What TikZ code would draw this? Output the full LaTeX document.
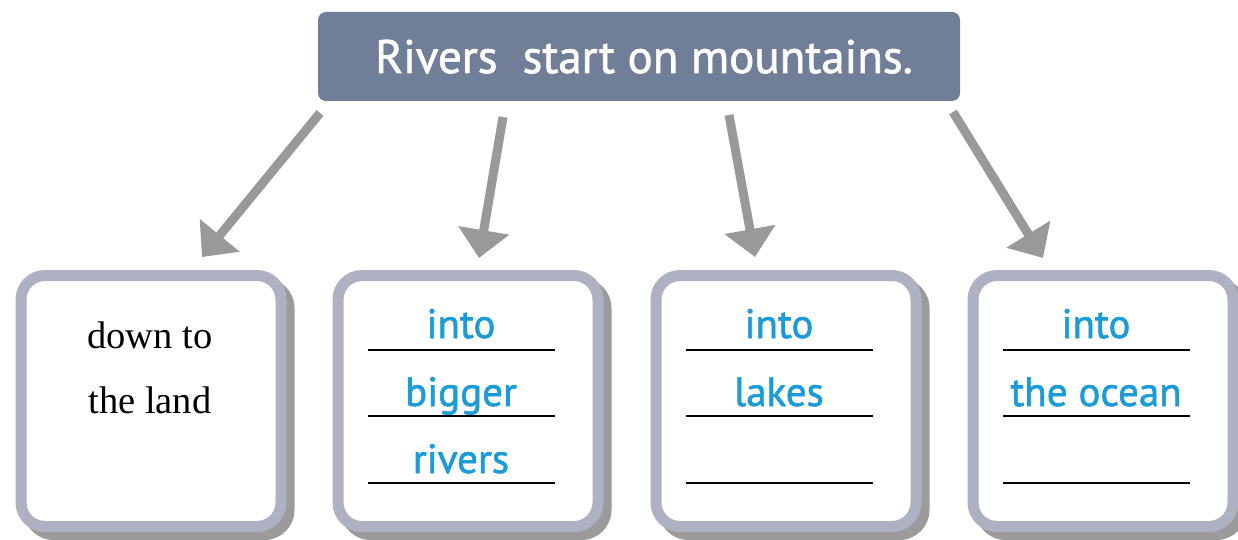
\documentclass[tikz,border=0pt]{standalone}
\usepackage{fontspec}
\setmainfont{Liberation Serif}
\newfontfamily\dinfont[FakeBold=1.4]{PT Sans}
\usetikzlibrary{arrows.meta}
\definecolor{titlefill}{HTML}{707E98}
\definecolor{ansblue}{HTML}{1B9BD7}
\definecolor{boxborder}{HTML}{ADB1C1}
\definecolor{boxshadow}{HTML}{9B9B9B}
\definecolor{arrowgray}{HTML}{999999}
\tikzset{
  titlebox/.style={fill=titlefill, rounded corners=8pt, minimum width=642pt, minimum height=89pt, inner sep=0pt},
  titletext/.style={text=white, font=\dinfont\fontsize{47}{47}\selectfont, anchor=base, inner sep=0pt},
  answerbox/.style={fill=white, draw=boxborder, line width=11pt, rounded corners=24pt, minimum width=260pt, minimum height=251pt, inner sep=0pt},
  shadowbox/.style={fill=boxshadow, rounded corners=30pt, minimum width=271pt, minimum height=262pt, inner sep=0pt},
  bigarrow/.style={draw=arrowgray, line width=9pt, -{Triangle[length=28pt,width=50pt]}},
  blanks/.style={draw=black, line width=2.2pt},
  bluetext/.style={text=ansblue, font=\dinfont\fontsize{41}{41}\selectfont, anchor=base, inner sep=0pt},
  serifans/.style={text=black, font=\fontsize{38.5}{38.5}\selectfont, anchor=base, inner sep=0pt},
}
\begin{document}
\begin{tikzpicture}[x=1pt,y=-1pt]
\useasboundingbox (0,0) rectangle (1238,540);
% title
\node[titlebox] (title) at (639,56.5) {};
\node[titletext] (titletxt) at (644,73) {Rivers\ \ start on mountains.};
% boxes
\foreach \c/\n in {151/1,468/2,786/3,1103/4}{
  \node[shadowbox] (sh\n) at (\c+8,409) {};
  \node[answerbox] (b\n) at (\c,401) {};
}
% arrows
\coordinate (s1) at (320,113); \coordinate (e1) at (202,257);
\coordinate (s2) at (503,117); \coordinate (e2) at (479,258);
\coordinate (s3) at (729,115); \coordinate (e3) at (755,257);
\coordinate (s4) at (953,112); \coordinate (e4) at (1043,258);
\draw[bigarrow] (s1) -- (e1);
\draw[bigarrow] (s2) -- (e2);
\draw[bigarrow] (s3) -- (e3);
\draw[bigarrow] (s4) -- (e4);
% box 1 text
\node[serifans] (t11) at (150,348) {down to};
\node[serifans] (t12) at (150,413) {the land};
% blank lines
\foreach \c/\n in {468/2,786/3,1103/4}{
  \coordinate (l\n a) at (\c-100,350); \coordinate (l\n b) at (\c+87,350);
  \coordinate (m\n a) at (\c-100,416); \coordinate (m\n b) at (\c+87,416);
  \coordinate (n\n a) at (\c-100,483); \coordinate (n\n b) at (\c+87,483);
  \draw[blanks] (l\n a) -- (l\n b);
  \draw[blanks] (m\n a) -- (m\n b);
  \draw[blanks] (n\n a) -- (n\n b);
}
% blue answers
\node[bluetext] (t21) at (461,338) {into};
\node[bluetext] (t22) at (461,406) {bigger};
\node[bluetext] (t23) at (461,473) {rivers};
\node[bluetext] (t31) at (779,338) {into};
\node[bluetext] (t32) at (779,406) {lakes};
\node[bluetext] (t41) at (1096,338) {into};
\node[bluetext] (t42) at (1096,406) {the ocean};
\end{tikzpicture}
\end{document}
